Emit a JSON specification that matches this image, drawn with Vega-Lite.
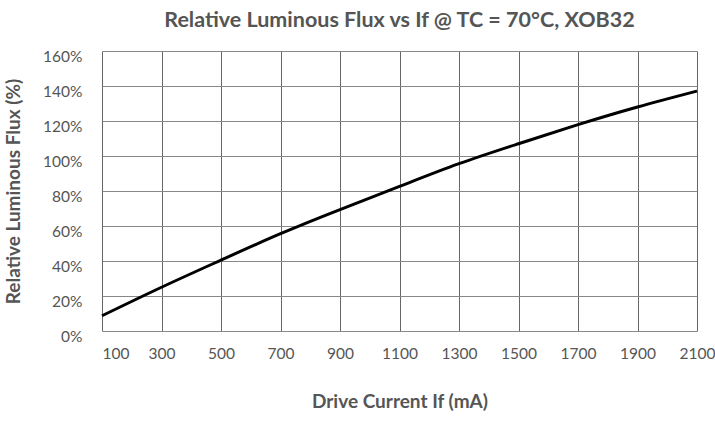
{
  "$schema": "https://vega.github.io/schema/vega-lite/v6.json",
  "autosize": {"type": "none"},
  "padding": {"left": 102, "top": 51, "right": 18, "bottom": 90},
  "width": 595,
  "height": 280,
  "title": {
    "text": "Relative Luminous Flux vs If @ TC = 70°C, XOB32",
    "font": "Lato",
    "fontSize": 21.5,
    "fontWeight": "bold",
    "color": "#555555",
    "anchor": "middle",
    "frame": "group",
    "baseline": "alphabetic",
    "offset": 1
  },
  "data": {
    "values": [
      {"current": 100, "flux": 8.7},
      {"current": 300, "flux": 25.0},
      {"current": 500, "flux": 40.5},
      {"current": 700, "flux": 55.6},
      {"current": 900, "flux": 69.4},
      {"current": 1100, "flux": 82.6},
      {"current": 1300, "flux": 95.6},
      {"current": 1500, "flux": 107.0},
      {"current": 1700, "flux": 117.9},
      {"current": 1900, "flux": 128.0},
      {"current": 2100, "flux": 137.1}
    ]
  },
  "mark": {"type": "line", "color": "#000000", "strokeWidth": 3, "interpolate": "natural"},
  "encoding": {
    "x": {
      "field": "current",
      "type": "quantitative",
      "scale": {"domain": [100, 2100], "nice": false, "zero": false},
      "axis": {
        "title": "Drive Current If (mA)",
        "format": "d",
        "values": [100, 300, 500, 700, 900, 1100, 1300, 1500, 1700, 1900, 2100],
        "grid": true,
        "gridColor": "#666666",
        "gridOpacity": 1,
        "gridWidth": 1,
        "ticks": false,
        "domain": false,
        "labelFlush": false,
        "labelAlign": {"condition": {"test": "datum.value == 100", "value": "left"}, "value": "center"},
        "labelFont": "Lato",
        "labelFontSize": 15.5,
        "labelColor": "#555555",
        "labelPadding": 15,
        "titleFont": "Lato",
        "titleFontSize": 19,
        "titleFontWeight": "bold",
        "titleColor": "#555555",
        "titlePadding": 31
      }
    },
    "y": {
      "field": "flux",
      "type": "quantitative",
      "scale": {"domain": [0, 160], "nice": false},
      "axis": {
        "title": "Relative Luminous Flux (%)",
        "values": [0, 20, 40, 60, 80, 100, 120, 140, 160],
        "labelExpr": "datum.value + '%'",
        "grid": true,
        "gridColor": "#888888",
        "gridOpacity": 1,
        "gridWidth": 1,
        "ticks": false,
        "domain": false,
        "labelFlush": false,
        "labelOffset": 5,
        "labelFont": "Lato",
        "labelFontSize": 15.5,
        "labelColor": "#555555",
        "labelPadding": 20,
        "titleFont": "Lato",
        "titleFontSize": 19,
        "titleFontWeight": "bold",
        "titleColor": "#555555",
        "titlePadding": 19
      }
    }
  },
  "config": {
    "view": {"stroke": null},
    "font": "Lato"
  }
}
